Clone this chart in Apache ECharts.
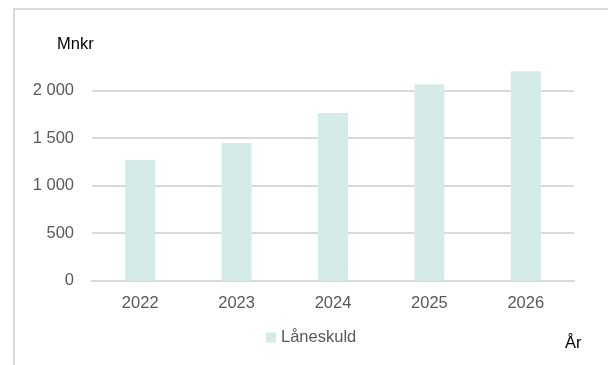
<!DOCTYPE html>
<html>
<head>
<meta charset="utf-8">
<script src="https://cdn.jsdelivr.net/npm/echarts@6/dist/echarts.min.js"></script>
<style>
html,body{margin:0;padding:0;background:#fff;}
#chart{width:608px;height:365px;}
</style>
</head>
<body>
<div id="chart"></div>
<script>
const categories = ['2022', '2023', '2024', '2025', '2026'];
const laneskuld = [1270, 1450, 1765, 2065, 2205];
const seriesName = 'Låneskuld';
const yUnit = 'Mnkr';
const xUnit = 'År';

const FONT = '"Liberation Sans", Arial, sans-serif';
const FS = 16.5;
const chart = echarts.init(document.getElementById('chart'), null, {renderer: 'canvas'});
chart.setOption({
  animation: false,
  backgroundColor: '#ffffff',
  textStyle: {fontFamily: FONT},
  graphic: [
    {type: 'rect', shape: {x: 14, y: 9, width: 800, height: 600}, style: {fill: 'none', stroke: '#d9d9d9', lineWidth: 2}, silent: true},
    {type: 'text', left: 57, top: 36, style: {text: yUnit, fontSize: FS, fontFamily: FONT, fill: '#000000'}},
    {type: 'text', left: 565, top: 335, style: {text: xUnit, fontSize: FS, fontFamily: FONT, fill: '#000000'}}
  ],
  legend: {
    data: [seriesName],
    left: 266,
    top: 329,
    padding: 0,
    icon: 'rect',
    itemWidth: 10,
    itemHeight: 10,
    itemGap: 10,
    textStyle: {fontSize: FS, color: '#595959', fontFamily: FONT}
  },
  grid: {left: 92, right: 34, top: 90.7, bottom: 84.3, containLabel: false},
  xAxis: {
    type: 'category',
    data: categories,
    axisLine: {show: true, lineStyle: {color: '#d9d9d9', width: 2}},
    axisTick: {show: false},
    axisLabel: {fontSize: FS, color: '#595959', margin: 14, fontFamily: FONT}
  },
  yAxis: {
    type: 'value',
    min: 0,
    max: 2000,
    interval: 500,
    axisLine: {show: false},
    axisTick: {show: false},
    splitLine: {lineStyle: {color: '#d9d9d9', width: 2}},
    axisLabel: {
      fontSize: FS, color: '#595959', margin: 18, fontFamily: FONT,
      formatter: v => String(v).replace(/\B(?=(\d{3})+(?!\d))/g, ' ')
    }
  },
  series: [{
    name: seriesName,
    type: 'bar',
    data: laneskuld,
    barWidth: 30,
    clip: false,
    itemStyle: {color: '#d5ebe7'}
  }]
});
</script>
</body>
</html>
